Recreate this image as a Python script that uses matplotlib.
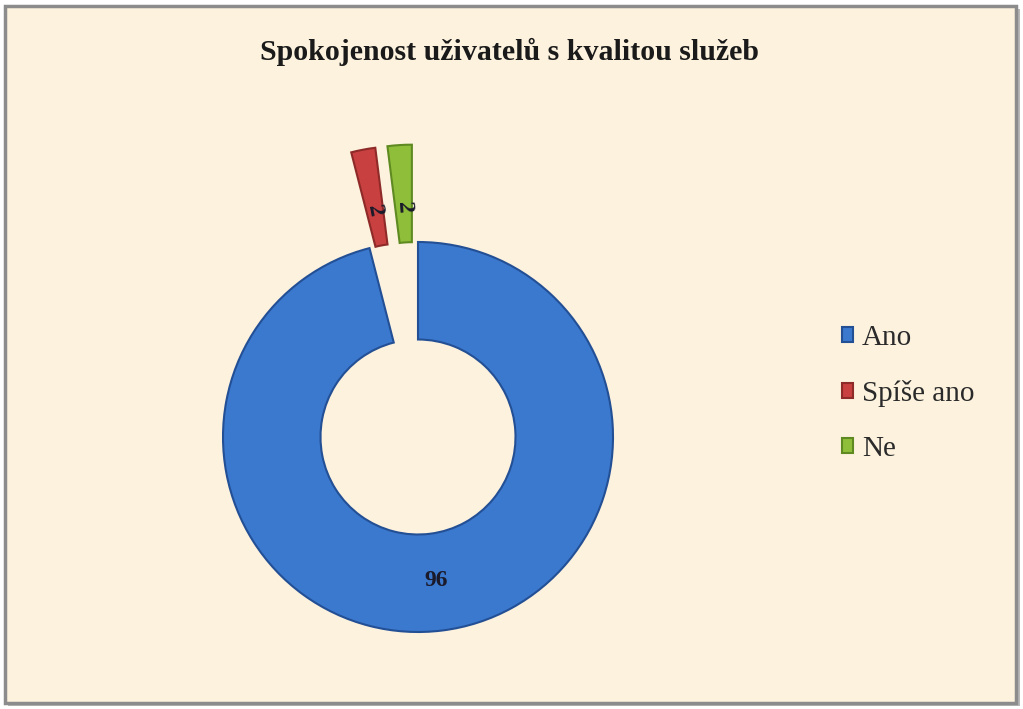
import matplotlib
matplotlib.use("Agg")
import matplotlib.pyplot as plt
from matplotlib.patches import Rectangle
import numpy as np

title = "Spokojenost uživatelů s kvalitou služeb"
categories = ["Ano", "Spíše ano", "Ne"]
values = [96, 2, 2]
colors = ["#3b79cf", "#c8403f", "#8fbf3a"]
edge_colors = ["#234f95", "#8e2a28", "#5f8a22"]
explode_frac = [0.0, 0.5, 0.5]

W, H = 1023, 709
fig = plt.figure(figsize=(W / 100, H / 100), dpi=100)
fig.patch.set_facecolor("white")

# background frame (figure level, behind axes)
fig.patches.append(Rectangle((8 / W, 3 / H), 1012 / W, 697 / H, transform=fig.transFigure,
                             facecolor="#b8b8b8", edgecolor="none", zorder=-2))
fig.patches.append(Rectangle((5 / W, 6 / H), 1011 / W, 697 / H, transform=fig.transFigure,
                             facecolor="#fcf2de", edgecolor="#8c8c8c", lw=2.5, zorder=-1))

ax = fig.add_axes([0, 0, 1, 1])
ax.patch.set_alpha(0)

cx, cy, R = 418, H - 437, 195
explode = [e * R for e in explode_frac]
wedges, _ = ax.pie(values, colors=colors, explode=explode, startangle=90, counterclock=False,
                   radius=R, center=(cx, cy), frame=True,
                   wedgeprops=dict(width=R * 0.5, linewidth=1.5))
for w, ec in zip(wedges, edge_colors):
    w.set_edgecolor(ec)
    w.set_zorder(2)
ax.set_xlim(0, W)
ax.set_ylim(0, H)
ax.set_aspect("equal")
ax.axis("off")

# labels
total = sum(values)
start = 90.0
for v, ex in zip(values, explode_frac):
    span = 360.0 * v / total
    mid = start - span / 2
    start -= span
    r = R * (0.74 + ex * 0.88)
    x = cx + r * np.cos(np.radians(mid))
    y = cy + r * np.sin(np.radians(mid))
    rot = 0 if v > 50 else mid - 180
    ax.text(x, y, str(v), ha="center", va="center", fontsize=17, fontweight="bold",
            family="Liberation Serif", color="#1a1a2a", rotation=rot, zorder=3)

fig.text(509 / W, 1 - 52 / H, title, ha="center", va="center", fontsize=21.5,
         fontweight="bold", family="Liberation Serif", color="#1a1a1a")

leg = ax.legend(wedges, categories, loc="upper left", bbox_to_anchor=(830 / W, 1 - 313 / H),
                frameon=False, prop=dict(family="Liberation Serif", size=21),
                handlelength=0.4, handleheight=0.4, handletextpad=0.3, labelspacing=1.0,
                borderaxespad=0, bbox_transform=fig.transFigure)
for t in leg.get_texts():
    t.set_color("#2a2a2a")

fig.savefig("out.png", dpi=100, facecolor="white")
